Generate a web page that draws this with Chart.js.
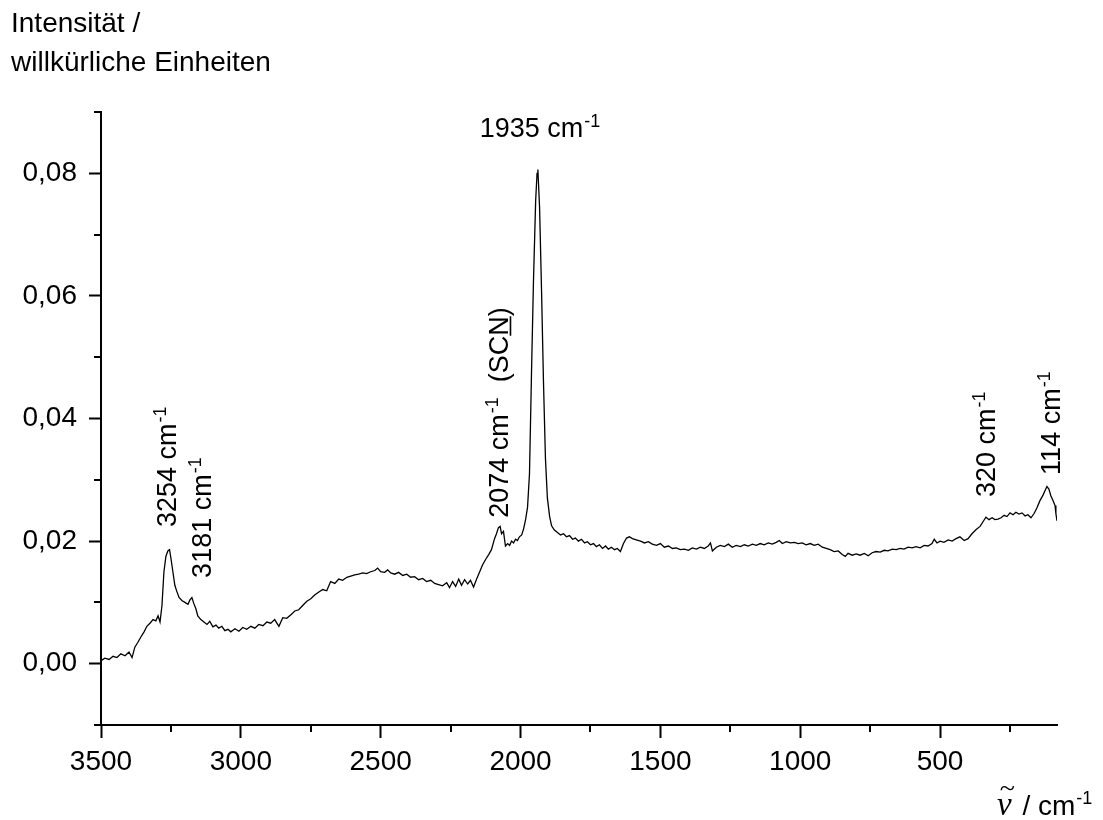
<!DOCTYPE html>
<html>
<head>
<meta charset="utf-8">
<script src="https://cdn.jsdelivr.net/npm/chart.js@4"></script>
<style>
  html, body { margin: 0; padding: 0; background: #fff; }
  canvas { display: block; }
</style>
</head>
<body>
<canvas id="c" width="1103" height="820"></canvas>
<script>
// Raman spectrum: wavenumber (cm^-1) and intensity (arbitrary units)
const wavenumbers = [
  3500, 3486, 3471, 3457, 3443, 3429, 3414, 3400, 3389, 3379,
  3368, 3357, 3346, 3336, 3325, 3314, 3304, 3296, 3289, 3282,
  3275, 3268, 3261, 3255, 3250, 3243, 3236, 3229, 3221, 3211,
  3200, 3189, 3182, 3175, 3168, 3161, 3154, 3143, 3132, 3121,
  3111, 3100, 3089, 3079, 3068, 3057, 3046, 3036, 3021, 3007,
  2993, 2979, 2964, 2950, 2936, 2921, 2907, 2893, 2879, 2864,
  2850, 2836, 2821, 2807, 2793, 2779, 2764, 2750, 2736, 2721,
  2707, 2693, 2679, 2664, 2650, 2636, 2621, 2607, 2593, 2579,
  2564, 2550, 2536, 2521, 2511, 2500, 2486, 2475, 2464, 2450,
  2436, 2421, 2407, 2393, 2379, 2364, 2350, 2336, 2321, 2307,
  2293, 2279, 2264, 2254, 2243, 2232, 2221, 2211, 2200, 2189,
  2179, 2168, 2157, 2146, 2136, 2125, 2114, 2104, 2093, 2086,
  2079, 2073, 2068, 2061, 2054, 2046, 2039, 2032, 2025, 2018,
  2011, 2004, 1996, 1989, 1982, 1975, 1968, 1961, 1954, 1946,
  1941, 1938, 1932, 1925, 1918, 1911, 1904, 1896, 1889, 1879,
  1868, 1857, 1846, 1836, 1825, 1814, 1804, 1793, 1782, 1771,
  1761, 1750, 1739, 1729, 1718, 1707, 1696, 1686, 1675, 1664,
  1654, 1643, 1632, 1621, 1611, 1600, 1586, 1571, 1557, 1543,
  1529, 1514, 1500, 1486, 1471, 1457, 1443, 1429, 1414, 1400,
  1386, 1371, 1357, 1343, 1329, 1321, 1314, 1300, 1286, 1271,
  1257, 1243, 1229, 1214, 1200, 1186, 1171, 1157, 1143, 1129,
  1114, 1100, 1086, 1075, 1064, 1050, 1036, 1021, 1007, 993,
  979, 964, 950, 936, 921, 907, 893, 879, 864, 850,
  839, 829, 814, 800, 786, 771, 757, 743, 729, 714,
  700, 686, 671, 657, 643, 629, 614, 600, 586, 571,
  557, 543, 529, 521, 511, 500, 486, 471, 457, 443,
  429, 414, 400, 386, 371, 357, 346, 336, 325, 314,
  304, 293, 282, 271, 261, 250, 239, 229, 218, 207,
  196, 186, 175, 164, 154, 143, 132, 125, 118, 111,
  104, 96, 89, 86, 82
];

const intensity = [
  0.0005, 0.0009, 0.0007, 0.0012, 0.0010, 0.0016, 0.0013, 0.0019, 0.0010, 0.0027,
  0.0035, 0.0044, 0.0052, 0.0061, 0.0066, 0.0072, 0.0070, 0.0078, 0.0068, 0.0095,
  0.0150, 0.0175, 0.0184, 0.0186, 0.0172, 0.0150, 0.0128, 0.0118, 0.0108, 0.0103,
  0.0100, 0.0097, 0.0104, 0.0108, 0.0098, 0.0090, 0.0078, 0.0072, 0.0068, 0.0064,
  0.0069, 0.0060, 0.0063, 0.0058, 0.0061, 0.0054, 0.0056, 0.0052, 0.0057, 0.0053,
  0.0059, 0.0056, 0.0061, 0.0058, 0.0064, 0.0062, 0.0068, 0.0066, 0.0072, 0.0061,
  0.0075, 0.0074, 0.0080, 0.0086, 0.0088, 0.0095, 0.0102, 0.0106, 0.0112, 0.0117,
  0.0121, 0.0119, 0.0134, 0.0131, 0.0138, 0.0136, 0.0141, 0.0143, 0.0145, 0.0146,
  0.0148, 0.0147, 0.0150, 0.0152, 0.0156, 0.0150, 0.0149, 0.0153, 0.0148, 0.0146,
  0.0149, 0.0144, 0.0146, 0.0141, 0.0142, 0.0137, 0.0139, 0.0134, 0.0136, 0.0131,
  0.0129, 0.0127, 0.0132, 0.0124, 0.0134, 0.0126, 0.0138, 0.0128, 0.0137, 0.0130,
  0.0136, 0.0125, 0.0138, 0.0150, 0.0161, 0.0170, 0.0178, 0.0186, 0.0204, 0.0212,
  0.0222, 0.0224, 0.0212, 0.0216, 0.0192, 0.0196, 0.0193, 0.0200, 0.0197, 0.0203,
  0.0201, 0.0207, 0.0210, 0.0220, 0.0235, 0.0255, 0.0310, 0.0470, 0.0620, 0.0755,
  0.0800, 0.0806, 0.0745, 0.0610, 0.0460, 0.0335, 0.0270, 0.0240, 0.0225, 0.0218,
  0.0214, 0.0210, 0.0212, 0.0207, 0.0209, 0.0203, 0.0205, 0.0200, 0.0203, 0.0197,
  0.0199, 0.0194, 0.0196, 0.0191, 0.0194, 0.0188, 0.0192, 0.0187, 0.0190, 0.0186,
  0.0188, 0.0183, 0.0196, 0.0205, 0.0207, 0.0204, 0.0202, 0.0200, 0.0197, 0.0199,
  0.0195, 0.0193, 0.0196, 0.0190, 0.0192, 0.0188, 0.0189, 0.0186, 0.0187, 0.0185,
  0.0189, 0.0187, 0.0190, 0.0188, 0.0192, 0.0197, 0.0184, 0.0190, 0.0193, 0.0191,
  0.0195, 0.0190, 0.0193, 0.0191, 0.0194, 0.0192, 0.0195, 0.0193, 0.0196, 0.0194,
  0.0197, 0.0195, 0.0198, 0.0201, 0.0196, 0.0199, 0.0197, 0.0198, 0.0196, 0.0197,
  0.0194, 0.0196, 0.0193, 0.0195, 0.0190, 0.0188, 0.0186, 0.0183, 0.0184, 0.0178,
  0.0175, 0.0180, 0.0177, 0.0179, 0.0177, 0.0180, 0.0176, 0.0181, 0.0183, 0.0182,
  0.0185, 0.0184, 0.0187, 0.0186, 0.0188, 0.0187, 0.0190, 0.0189, 0.0191, 0.0189,
  0.0193, 0.0192, 0.0196, 0.0203, 0.0197, 0.0200, 0.0198, 0.0202, 0.0200, 0.0204,
  0.0207, 0.0201, 0.0204, 0.0212, 0.0219, 0.0224, 0.0232, 0.0239, 0.0235, 0.0238,
  0.0235, 0.0236, 0.0238, 0.0242, 0.0240, 0.0246, 0.0243, 0.0247, 0.0244, 0.0246,
  0.0241, 0.0243, 0.0238, 0.0245, 0.0254, 0.0266, 0.0275, 0.0282, 0.0289, 0.0285,
  0.0274, 0.0266, 0.0258, 0.0245, 0.0233
];

// Axis ticks
const xMajorTicks = [3500, 3000, 2500, 2000, 1500, 1000, 500];
const xMinorTicks = [3250, 2750, 2250, 1750, 1250, 750, 250];
const yMajorTicks = [0, 0.02, 0.04, 0.06, 0.08];
const yMinorTicks = [-0.01, 0.01, 0.03, 0.05, 0.07, 0.09];

// Band assignments written next to the peaks
const bandLabels = ['3254', '3181', '2074', '320', '114', '1935'];

const SANS = "'Liberation Sans', Arial, sans-serif";
const SERIF = "'Liberation Serif', 'Times New Roman', serif";

// Text anchors (start of text, in data coordinates) for the band labels
const labelPlacement = [
  { wn: 3232, v: 0.0223, rotated: true },
  { wn: 3107, v: 0.0140, rotated: true },
  { wn: 2046, v: 0.0238, rotated: true, suffix: 'SCN' },
  { wn: 304,  v: 0.0272, rotated: true },
  { wn: 71,   v: 0.0308, rotated: true },
  { wn: 2146, v: 0.0860, rotated: false }
];

function drawWithSup(ctx, x, y, main, sup, size) {
  ctx.font = size + 'px ' + SANS;
  ctx.fillText(main, x, y);
  let w = ctx.measureText(main).width;
  ctx.font = Math.round(size * 0.65) + 'px ' + SANS;
  ctx.fillText(sup, x + w + 1, y - Math.round(size * 0.38));
  return x + w + 1 + ctx.measureText(sup).width;
}

const decorations = {
  id: 'decorations',
  afterDraw(chart) {
    const ctx = chart.ctx;
    const xs = chart.scales.x, ys = chart.scales.y;
    const area = chart.chartArea;
    ctx.save();
    ctx.strokeStyle = '#000';
    ctx.lineWidth = 2;
    // minor ticks
    ctx.beginPath();
    xMinorTicks.forEach(v => {
      const px = Math.round(xs.getPixelForValue(v));
      ctx.moveTo(px, area.bottom);
      ctx.lineTo(px, area.bottom + 7);
    });
    yMinorTicks.forEach(v => {
      const py = Math.round(ys.getPixelForValue(v));
      ctx.moveTo(area.left, py);
      ctx.lineTo(area.left - 7, py);
    });
    ctx.stroke();

    ctx.fillStyle = '#000';
    ctx.textBaseline = 'alphabetic';
    ctx.textAlign = 'left';

    // band labels
    bandLabels.forEach((txt, i) => {
      const p = labelPlacement[i];
      const x = xs.getPixelForValue(p.wn);
      const y = ys.getPixelForValue(p.v);
      ctx.save();
      ctx.translate(x, y);
      if (p.rotated) ctx.rotate(-Math.PI / 2);
      let end = drawWithSup(ctx, 0, 0, txt + ' cm', '-1', 27);
      if (p.suffix) {
        ctx.font = '27px ' + SANS;
        let cx = end + ctx.measureText('  ').width;
        ctx.fillText('(', cx, 0);
        cx += ctx.measureText('(').width;
        const pre = p.suffix.slice(0, -1), last = p.suffix.slice(-1);
        ctx.fillText(pre, cx, 0);
        cx += ctx.measureText(pre).width;
        ctx.fillText(last, cx, 0);
        const lw = ctx.measureText(last).width;
        ctx.fillRect(cx, 2, lw, 1.6);
        cx += lw;
        ctx.fillText(')', cx, 0);
      }
      ctx.restore();
    });

    // y-axis title
    ctx.font = '28px ' + SANS;
    ctx.fillText('Intensität /', 11, 32);
    ctx.fillText('willkürliche Einheiten', 11, 71);

    // x-axis title: wavenumber symbol with tilde
    ctx.font = 'italic 33px ' + SERIF;
    ctx.fillText('\u03BD', 997, 815);
    const nuW = ctx.measureText('\u03BD').width;
    ctx.font = '28px ' + SERIF;
    const tw = ctx.measureText('~').width;
    ctx.fillText('~', 997 + nuW / 2 - tw / 2 + 3, 797);
    drawWithSup(ctx, 997 + nuW + 3, 815, ' / cm', '-1', 28);
    ctx.restore();
  }
};

new Chart(document.getElementById('c'), {
  type: 'line',
  data: {
    datasets: [{
      data: wavenumbers.map((w, i) => ({ x: w, y: intensity[i] })),
      borderColor: '#000',
      borderWidth: 1.3,
      pointRadius: 0,
      fill: false,
      tension: 0
    }]
  },
  options: {
    responsive: false,
    devicePixelRatio: 1,
    animation: false,
    events: [],
    layout: { padding: { top: 112, right: 46, bottom: 0, left: 0 } },
    plugins: { legend: { display: false }, tooltip: { enabled: false }, title: { display: false } },
    scales: {
      x: {
        type: 'linear',
        reverse: true,
        min: 82,
        max: 3500,
        afterBuildTicks: s => { s.ticks = xMajorTicks.map(v => ({ value: v })); },
        afterFit: s => { s.height = 95; },
        ticks: {
          autoSkip: false,
          maxRotation: 0,
          padding: 7,
          color: '#000',
          font: { family: SANS, size: 28 },
          callback: v => String(v)
        },
        grid: { drawOnChartArea: false, drawTicks: true, tickLength: 13, tickWidth: 2, tickColor: '#000' },
        border: { display: true, color: '#000', width: 2 }
      },
      y: {
        type: 'linear',
        min: -0.01,
        max: 0.09,
        afterBuildTicks: s => { s.ticks = yMajorTicks.map(v => ({ value: v })); },
        afterFit: s => { s.width = 101; },
        ticks: {
          autoSkip: false,
          padding: 12,
          color: '#000',
          font: { family: SANS, size: 28 },
          callback: v => v.toFixed(2).replace('.', ',')
        },
        grid: { drawOnChartArea: false, drawTicks: true, tickLength: 12, tickWidth: 2, tickColor: '#000' },
        border: { display: true, color: '#000', width: 2 }
      }
    }
  },
  plugins: [decorations]
});
</script>
</body>
</html>
